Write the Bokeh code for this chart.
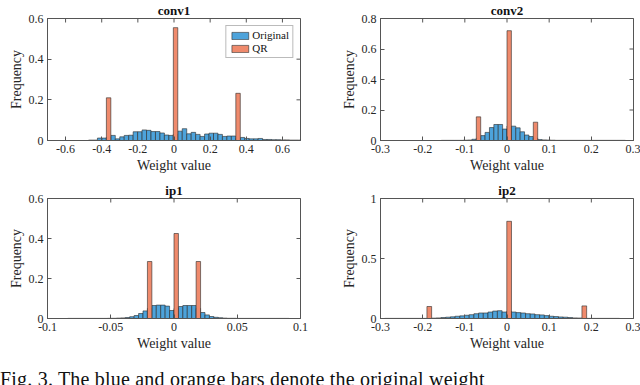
import math
from bokeh.plotting import figure
from bokeh.models import FixedTicker, Range1d, Legend, LegendItem, Div
from bokeh.layouts import column, row
from bokeh.embed import file_html
from bokeh.resources import INLINE

FONT = "Liberation Serif"
BLUE = "#4DA3DB"
ORANGE = "#EF8A6C"
EDGE = "#2a2a2a"
AXC = "#555555"
TXT = "#262626"

# ---------------- data ----------------
# conv1
conv1_bin_start = -0.0037
conv1_bin_width = 0.0247
conv1_first_bin = -19
conv1_original = [0.002, 0.002, 0.012, 0.012, 0.015, 0.025, 0.008, 0.018, 0.025, 0.026,
                  0.043, 0.043, 0.052, 0.050, 0.044, 0.044, 0.037, 0.027, 0.025, 0.030,
                  0.046, 0.058, 0.033, 0.040, 0.030, 0.020, 0.032, 0.036, 0.036, 0.030,
                  0.020, 0.022, 0.022, 0.010, 0.015, 0.010, 0.008, 0.008, 0.010, 0.005,
                  0.005, 0.004, 0.004, 0.003, 0.003, 0.002, 0.002, 0.002]
conv1_qr_values = [-0.35, 0.0, 0.35]
conv1_qr_freq = [0.21, 0.555, 0.232]
conv1_xticks = [-0.6, -0.4, -0.2, 0, 0.2, 0.4, 0.6]
conv1_xlabels = ["-0.6", "-0.4", "-0.2", "0", "0.2", "0.4", "0.6"]
conv1_yticks = [0, 0.2, 0.4, 0.6]
conv1_ylabels = ["0", "0.2", "0.4", "0.6"]

# conv2
conv2_bin_start = 0.0
conv2_bin_width = 0.0104
conv2_first_bin = -15
conv2_original = [0.001, 0.001, 0.001, 0.001, 0.001, 0.002, 0.003, 0.008, 0.015, 0.032,
                  0.053, 0.085, 0.105, 0.105, 0.075, 0.095, 0.094, 0.083, 0.057, 0.036,
                  0.026, 0.015, 0.006, 0.004, 0.003, 0.002, 0.001, 0.001, 0.001, 0.001,
                  0.001, 0.001, 0.001, 0.001, 0.001, 0.001, 0.001, 0.001, 0.001, 0.001,
                  0.001, 0.001]
conv2_qr_values = [-0.07, 0.0, 0.07]
conv2_qr_freq = [0.155, 0.72, 0.12]
conv2_xticks = [-0.3, -0.2, -0.1, 0, 0.1, 0.2, 0.3]
conv2_xlabels = ["-0.3", "-0.2", "-0.1", "0", "0.1", "0.2", "0.3"]
conv2_yticks = [0, 0.2, 0.4, 0.6, 0.8]
conv2_ylabels = ["0", "0.2", "0.4", "0.6", "0.8"]

# ip1
ip1_bin_start = 0.0
ip1_bin_width = 0.0035
ip1_first_bin = -24
ip1_original = [0.0005, 0.0005, 0.0005, 0.0005, 0.0005, 0.0005, 0.0005, 0.0005, 0.0005, 0.001,
                0.001, 0.002, 0.003, 0.005, 0.009, 0.015, 0.025, 0.038, 0.050, 0.065,
                0.067, 0.067, 0.062, 0.040, 0.050, 0.060, 0.065, 0.065, 0.065, 0.050,
                0.030, 0.018, 0.010, 0.006, 0.004, 0.002, 0.001, 0.001, 0.0005, 0.0005,
                0.0005, 0.0005, 0.0005, 0.0005, 0.0005, 0.0005, 0.0005, 0.0005, 0.0005, 0.0005]
ip1_qr_values = [-0.02, 0.0, 0.02]
ip1_qr_freq = [0.285, 0.425, 0.285]
ip1_xticks = [-0.1, -0.05, 0, 0.05, 0.1]
ip1_xlabels = ["-0.1", "-0.05", "0", "0.05", "0.1"]
ip1_yticks = [0, 0.2, 0.4, 0.6]
ip1_ylabels = ["0", "0.2", "0.4", "0.6"]

# ip2
ip2_bin_start = -0.0005
ip2_bin_width = 0.01114
ip2_first_bin = -26
ip2_original = [0.001, 0.001, 0.001, 0.001, 0.001, 0.001, 0.001, 0.001, 0.001, 0.001,
                0.003, 0.005, 0.008, 0.011, 0.014, 0.019, 0.022, 0.027, 0.032, 0.040,
                0.046, 0.046, 0.054, 0.062, 0.065, 0.054, 0.060, 0.054, 0.049, 0.046,
                0.040, 0.038, 0.032, 0.030, 0.024, 0.019, 0.016, 0.013, 0.011, 0.008,
                0.005, 0.004, 0.003, 0.001, 0.001, 0.001, 0.001, 0.001, 0.001, 0.001]
ip2_qr_values = [-0.185, 0.0, 0.185]
ip2_qr_freq = [0.10, 0.81, 0.105]
ip2_xticks = [-0.3, -0.2, -0.1, 0, 0.1, 0.2, 0.3]
ip2_xlabels = ["-0.3", "-0.2", "-0.1", "0", "0.1", "0.2", "0.3"]
ip2_yticks = [0, 0.5, 1]
ip2_ylabels = ["0", "0.5", "1"]

TITLES = ["conv1", "conv2", "ip1", "ip2"]
LEGEND_LABELS = ["Original", "QR"]
CAPTION = "Fig. 3. The blue and orange bars denote the original weight"


def style_axis(ax, ticks, labels):
    ax.ticker = FixedTicker(ticks=ticks)
    ax.major_tick_in = 4
    ax.major_tick_out = 0
    ax.minor_tick_in = 0
    ax.minor_tick_out = 0
    ax.axis_line_color = AXC
    ax.major_tick_line_color = AXC
    ax.major_label_text_font = FONT
    ax.major_label_text_color = TXT
    ax.major_label_overrides = dict(zip(ticks, labels))
    ax.major_label_text_font_size = "12px"
    ax.major_label_standoff = 4
    ax.axis_label_text_font = FONT
    ax.axis_label_text_font_size = "14px"
    ax.axis_label_text_font_style = "normal"
    ax.axis_label_text_color = TXT


def panel(title, xlim, ylim, xticks, xlabels, yticks, ylabels,
          bin_start, bin_width, first_bin, original, qr_values, qr_freq,
          width, height, bl, br, bt, bb, legend=False):
    p = figure(width=width, height=height, x_range=Range1d(*xlim), y_range=Range1d(*ylim),
               output_backend="svg", toolbar_location=None,
               min_border_left=bl, min_border_right=br, min_border_top=bt, min_border_bottom=bb)
    p.xgrid.visible = False
    p.ygrid.visible = False
    p.outline_line_color = AXC
    p.background_fill_color = "white"
    p.border_fill_color = "white"

    p.title.text = title
    p.title.align = "center"
    p.title.text_font = FONT
    p.title.text_font_size = "13px"
    p.title.text_font_style = "bold"
    p.title.text_color = "#111111"
    p.title.standoff = 1

    lefts = [bin_start + (first_bin + i) * bin_width for i in range(len(original))]
    rights = [l + bin_width for l in lefts]
    rb = p.quad(left=lefts, right=rights, bottom=0, top=original,
                fill_color=BLUE, line_color=EDGE, line_width=0.6)

    qk = [math.floor((v - bin_start) / bin_width) for v in qr_values]
    ql = [bin_start + k * bin_width for k in qk]
    qrr = [l + bin_width for l in ql]
    rq = p.quad(left=ql, right=qrr, bottom=0, top=qr_freq,
                fill_color=ORANGE, line_color=EDGE, line_width=0.6)

    # inward ticks on the top and right edges of the box
    p.scatter(x=xticks, y=[ylim[1]] * len(xticks), marker="dash", angle=math.pi / 2,
              size=8, line_color=AXC, line_width=1)
    p.scatter(x=[xlim[1]] * len(yticks), y=yticks, marker="dash",
              size=8, line_color=AXC, line_width=1)

    style_axis(p.xaxis[0], xticks, xlabels)
    style_axis(p.yaxis[0], yticks, ylabels)
    p.xaxis.axis_label = "Weight value"
    p.yaxis.axis_label = "Frequency"
    p.xaxis.axis_label_standoff = 2
    p.yaxis.axis_label_standoff = 2

    if legend:
        lg = Legend(items=[LegendItem(label=LEGEND_LABELS[0], renderers=[rb]),
                           LegendItem(label=LEGEND_LABELS[1], renderers=[rq])],
                    location="top_right", margin=7, padding=3, spacing=1,
                    glyph_width=21, glyph_height=9, label_height=12, label_width=10,
                    label_standoff=2,
                    label_text_font=FONT, label_text_font_size="11px", label_text_color="#111111",
                    border_line_color="#777777", border_line_width=1,
                    background_fill_color="white", background_fill_alpha=1.0)
        p.add_layout(lg)
    return p


p1 = panel(TITLES[0], (-0.7, 0.7), (0, 0.6), conv1_xticks, conv1_xlabels, conv1_yticks, conv1_ylabels,
           conv1_bin_start, conv1_bin_width, conv1_first_bin, conv1_original,
           conv1_qr_values, conv1_qr_freq, 320, 180, 47, 20, 15, 40, legend=True)
p2 = panel(TITLES[1], (-0.3, 0.3), (0, 0.8), conv2_xticks, conv2_xlabels, conv2_yticks, conv2_ylabels,
           conv2_bin_start, conv2_bin_width, conv2_first_bin, conv2_original,
           conv2_qr_values, conv2_qr_freq, 320, 180, 60, 7, 15, 40)
p3 = panel(TITLES[2], (-0.1, 0.1), (0, 0.6), ip1_xticks, ip1_xlabels, ip1_yticks, ip1_ylabels,
           ip1_bin_start, ip1_bin_width, ip1_first_bin, ip1_original,
           ip1_qr_values, ip1_qr_freq, 320, 190, 47, 20, 15, 52)
p4 = panel(TITLES[3], (-0.3, 0.3), (0, 1), ip2_xticks, ip2_xlabels, ip2_yticks, ip2_ylabels,
           ip2_bin_start, ip2_bin_width, ip2_first_bin, ip2_original,
           ip2_qr_values, ip2_qr_freq, 320, 190, 60, 7, 15, 52)

caption = Div(text=CAPTION, width=640, height=15, margin=0,
              styles={"font-family": FONT, "font-size": "20px", "line-height": "19px",
                      "letter-spacing": "0.2px",
                      "overflow": "hidden", "white-space": "nowrap", "color": "#111111"})

layout = column(row(p1, p2), row(p3, p4), caption)
open("out.html", "w").write(file_html(layout, INLINE))
